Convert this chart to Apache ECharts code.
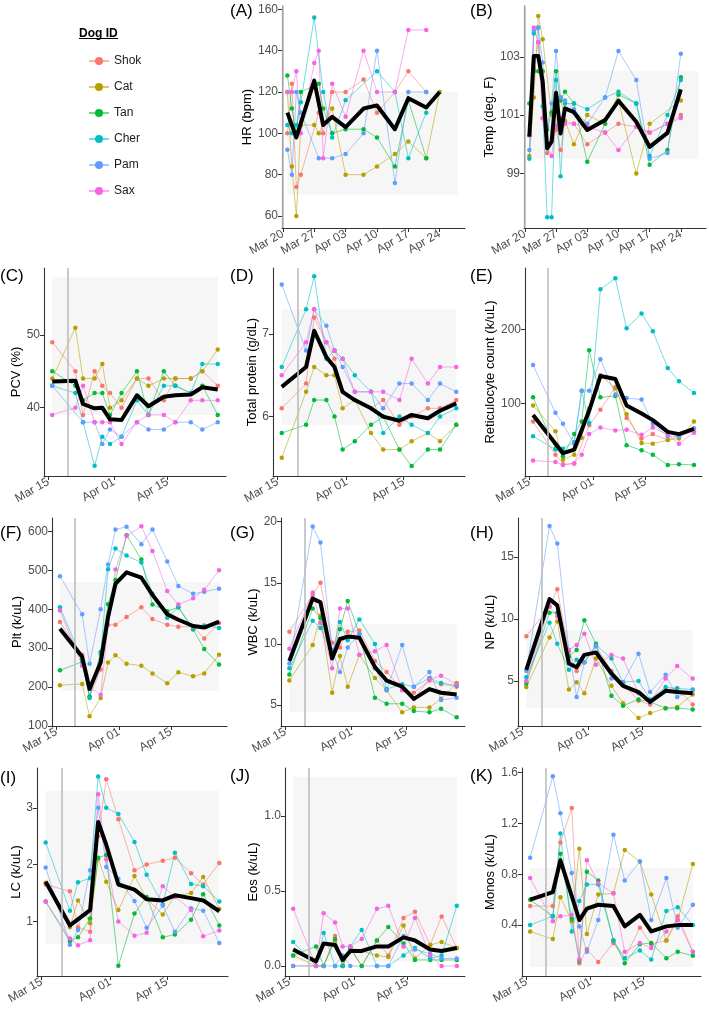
<!DOCTYPE html>
<html><head><meta charset="utf-8">
<script src="https://cdn.jsdelivr.net/npm/echarts@6/dist/echarts.min.js"></script>
<style>html,body{margin:0;padding:0;background:#fff}#c{width:709px;height:1009px}</style>
</head><body><div id="c"></div>
<script>
// ---------- DATA ----------
const dogs = ['Shok','Cat','Tan','Cher','Pam','Sax'];
const dogColors = ['#F8766D','#B79F00','#00BA38','#00BFC4','#619CFF','#F564E3'];

// day offsets from Mar 15
const vitalTickDays = [5,12,19,26,33,40];
const vitalTickLabels = ['Mar 20','Mar 27','Apr 03','Apr 10','Apr 17','Apr 24'];
const labTickDays = [0,17,31];
const labTickLabels = ['Mar 15','Apr 01','Apr 15'];
const exposureDay = 5; // Mar 20

// (A) HR
const hrDates = [6,7,8,9,12,13,14,16,19,23,26,30,33,37,40];
const hr_Shok = [100,124,74,80,null,110,100,120,120,126,110,120,130,120,null];
const hr_Cat  = [120,84,60,104,104,100,null,112,80,80,84,90,96,88,120];
const hr_Tan  = [128,112,100,120,null,124,112,100,102,102,98,84,116,88,null];
const hr_Cher = [104,100,104,115,156,null,120,98,116,null,130,120,88,110,null];
const hr_Pam  = [92,80,120,110,null,88,null,88,90,100,140,76,120,120,null];
const hr_Sax  = [120,120,130,100,134,140,88,124,108,140,120,120,150,150,null];
const hrMeanDates = [6,8,12,14,16,19,23,26,30,33,37,40];
const hrMean = [110,98,125.5,104,108,103,112,113.5,102,117,112.5,120];
const hrBand = [70,120];

// (B) Temp
const tempDates = [6,7,8,9,10,11,12,13,14,16,19,23,26,30,33,37,40];
const temp_Shok = [null,102.6,103.5,100.9,99.7,null,100.5,99.8,100.8,100.7,100.0,100.4,100.7,100.6,100.4,100.7,101.0];
const temp_Cat  = [99.6,101.6,104.4,103.6,null,101.0,100.6,101.6,100.8,100.0,101.0,100.7,101.5,99.0,100.7,null,101.5];
const temp_Tan  = [101.4,102.5,102.5,102.5,100.5,101.1,102.5,101.5,101.8,101.4,99.4,100.7,101.7,101.4,99.3,99.8,102.3];
const temp_Cher = [99.5,103.8,104.0,101.3,97.5,97.5,102.2,98.9,101.4,101.4,101.2,101.6,101.8,101.4,99.6,101.0,102.2];
const temp_Pam  = [99.8,103.9,104.0,102.8,100.6,101.4,103.2,101.6,101.5,101.2,100.7,101.6,103.2,102.2,99.5,99.7,103.1];
const temp_Sax  = [100.3,104.0,103.5,100.9,100.0,99.6,100.6,100.9,100.7,100.7,100.6,100.4,99.8,100.6,100.4,100.7,100.9];
const tempMeanDates = [6,7,8,9,10,11,12,13,14,16,19,23,26,30,33,37,40];
const tempMean = [100.26,103.03,103.03,102.14,99.86,100.09,101.77,100.37,101.23,101.1,100.49,100.83,101.49,100.77,99.91,100.39,101.88];
const tempBand = [99.5,102.5];

// lab dates (C-K)
const labDates = [1,7,9,12,14,16,19,23,26,30,33,37,40,44];

// (C) PCV
const pcv_Shok = [49,45,39,45,43,42,40,44,44,41,44,44,45,43];
const pcv_Cat  = [44,51,44,44,46,40,41,44,43,44,44,44,45,48];
const pcv_Tan  = [45,43,41,42,42,39,42,45,39,45,43,42,43,39];
const pcv_Cher = [43,42,38,32,36,35,36,41,39,43,43,42,46,46];
const pcv_Pam  = [43,null,38,38,35,37,36,38,37,37,38,38,37,38];
const pcv_Sax  = [39,40,43,38,38,38,35,38,39,39,38,41,41,41];
const pcvMean  = [43.6,43.7,40.5,39.9,40,38.4,38.3,41.7,40.2,41.5,41.7,41.8,42.8,42.5];
const pcvBand = [39,58];

// (D) Total protein
const tp_Shok = [6.1,6.4,7.2,6.9,6.7,6.3,6.2,6.1,6.2,5.9,6.0,6.1,6.1,6.2];
const tp_Cat  = [5.5,6.3,6.6,6.5,6.5,6.1,6.2,5.8,5.6,5.6,5.7,5.8,5.7,5.9];
const tp_Tan  = [5.8,5.9,6.2,6.2,6.0,5.6,5.7,5.9,6.0,5.6,5.4,5.6,5.6,5.9];
const tp_Cher = [6.6,7.3,7.7,6.7,6.8,6.7,6.5,6.3,5.8,6.0,5.9,5.8,6.0,6.1];
const tp_Pam  = [7.6,6.8,7.3,7.1,6.8,6.6,6.3,6.3,6.1,6.4,6.4,6.2,6.4,6.3];
const tp_Sax  = [6.5,6.9,7.3,6.9,6.8,6.7,6.3,6.3,6.3,6.2,6.7,6.4,6.6,6.6];
const tpMean  = [6.36,6.6,7.04,6.72,6.6,6.3,6.2,6.1,6.0,5.95,6.02,5.98,6.07,6.16];
const tpBand = [5.9,7.3];

// (E) Reticulocytes
const ret_Shok = [75,30,17,18,null,70,91,122,80,52,58,50,55,62];
const ret_Cat  = [97,62,23,30,53,93,138,120,85,46,45,50,52,75];
const ret_Tan  = [108,38,28,58,75,172,108,110,43,36,30,16,17,16];
const ret_Cher = [55,37,38,47,117,73,255,270,202,222,198,148,130,114];
const ret_Pam  = [152,87,72,45,117,117,160,112,107,105,72,55,55,66];
const ret_Sax  = [22,20,16,18,30,58,67,63,64,57,67,57,45,60];
const retMean  = [84,null,32,37,null,90,137,133,97,86,77,61,58,65];

// (F) Platelets
const plt_Shok = [367,283,175,245,360,360,380,405,375,360,355,355,325,365];
const plt_Cat  = [205,208,125,172,263,282,260,255,235,210,238,228,235,283];
const plt_Tan  = [243,265,175,290,413,475,590,528,412,395,405,348,298,258];
const plt_Cher = [405,270,172,285,503,556,538,520,440,378,405,350,358,352];
const plt_Pam  = [485,387,260,400,515,605,612,567,605,523,460,440,445,453];
const plt_Sax  = [397,255,200,180,360,502,588,613,550,447,412,428,450,500];
const pltMean  = [350,278,195,263,380,465,495,481,437,387,373,357,353,368];
const pltBand = [190,470];

// (G) WBC
const wbc_Shok = [11,14,15,10.1,9.7,11,11.1,8.6,7.7,6.3,6.0,7.0,6.7,6.5];
const wbc_Cat  = [7.0,9.9,12.3,6.0,9.0,6.5,9.1,7.2,6.2,4.4,4.8,4.8,5.5,6.8];
const wbc_Tan  = [7.5,12.9,12.1,9.0,11.2,13.5,10.8,5.6,5.1,5.1,4.5,4.4,4.7,4.0];
const wbc_Cher = [8.0,11.9,11.3,9.2,11.8,10.3,12.0,10.0,6.3,6.7,6.5,7.2,6.8,6.6];
const wbc_Pam  = [8.4,19.6,18.3,9.5,7.7,9.7,10.8,8.0,6.2,9.9,6.5,7.7,5.4,5.6];
const wbc_Sax  = [9.6,14.2,11.7,8.0,12.9,12.9,9.1,9.4,9.9,6.2,5.5,7.1,7.4,6.7];
const wbcMean  = [8.6,13.7,13.4,8.8,10.4,10.6,10.5,8.1,7.0,6.5,5.5,6.3,6.0,5.85];
const wbcBand = [4.4,11.6];

// (H) Neutrophils
const np_Shok = [8.6,11.0,12.4,7.4,5.8,6.5,7.8,5.8,4.8,3.4,3.1,4.3,4.4,3.1];
const np_Cat  = [4.5,8.5,9.8,4.3,4.9,4.0,6.8,4.6,3.2,2.0,2.4,2.8,2.9,3.9];
const np_Tan  = [4.8,10.5,10.5,7.0,7.5,9.9,8.0,3.8,3.0,3.5,3.3,2.8,2.8,2.7];
const np_Cher = [5.3,9.7,8.0,5.9,6.7,6.5,7.9,6.8,4.9,5.0,3.5,4.5,4.4,4.3];
const np_Pam  = [5.8,17.5,16.1,7.5,3.7,6.5,7.8,5.2,4.9,7.2,4.1,5.5,3.7,4.2];
const np_Sax  = [5.0,11.0,10.2,7.5,7.9,8.8,6.3,7.1,6.8,4.0,3.3,5.2,6.2,5.2];
const npMean  = [5.9,11.6,11.1,6.4,6.1,7.1,7.3,5.6,4.6,4.1,3.3,4.2,4.1,4.0];
const npBand = [2.8,9.1];

// (I) Lymphocytes
const lc_Shok = [1.65,1.53,0.9,0.82,2.5,3.5,2.8,1.9,2.0,2.07,2.12,1.85,1.65,2.03];
const lc_Cat  = [1.68,0.9,1.37,0.97,2.1,1.7,1.2,1.8,1.4,1.12,1.45,1.5,1.78,1.22];
const lc_Tan  = [1.35,0.65,0.72,1.05,2.12,2.17,0.22,1.14,1.43,0.72,0.77,1.03,1.48,0.93];
const lc_Cher = [2.39,1.19,1.69,1.76,3.55,3.0,2.89,2.4,1.82,1.3,2.21,1.66,1.62,1.35];
const lc_Pam  = [1.95,0.59,0.85,1.9,3.0,1.96,1.75,1.36,0.89,1.28,0.82,1.23,1.19,0.62];
const lc_Sax  = [1.35,0.7,0.58,0.67,3.24,2.09,1.0,0.75,0.8,1.62,1.43,1.2,0.74,0.84];
const lcMean  = [1.7,0.93,null,1.2,2.75,2.35,1.65,1.56,1.39,1.37,1.46,1.41,1.37,1.18];
const lcBand = [0.6,3.3];

// (J) Eosinophils
const eos_Shok = [0.0,null,0.0,0.2,0.0,0.12,0.0,0.17,0.07,0.32,0.36,0.14,0.33,0.12];
const eos_Cat  = [0.07,0.0,0.0,0.17,0.0,0.12,0.1,0.07,0.06,0.27,0.05,0.14,0.16,0.12];
const eos_Tan  = [0.07,0.13,0.0,0.18,0.0,0.12,0.0,0.17,0.26,0.15,0.04,0.04,0.04,0.04];
const eos_Cher = [0.16,0.0,0.22,0.0,0.0,0.13,0.24,0.0,0.0,0.07,0.12,0.05,0.07,0.4];
const eos_Pam  = [0.0,0.0,0.0,0.0,0.07,0.0,null,0.0,0.0,0.2,0.11,0.08,0.05,0.05];
const eos_Sax  = [0.38,0.0,0.35,0.29,0.13,0.13,0.18,0.38,0.4,0.13,0.32,0.07,0.0,0.0];
const eosMean  = [0.11,0.03,0.15,0.14,0.04,0.10,0.10,0.13,0.13,0.19,0.17,0.11,0.10,0.12];
const eosBand = [0.03,1.26];

// (K) Monocytes
const mono_Shok = [0.55,0.55,1.05,1.32,0.1,0.21,0.11,0.26,0.14,0.38,0.25,0.28,0.47,0.19];
const mono_Cat  = [0.35,0.29,0.62,0.43,1.0,0.33,0.64,0.65,0.99,0.9,0.64,0.28,0.44,0.88];
const mono_Tan  = [0.6,0.47,0.96,0.45,0.12,0.82,0.75,0.28,0.1,0.25,0.26,0.14,0.19,0.16];
const mono_Cher = [0.4,0.47,1.12,0.35,0.59,0.72,0.72,0.28,0.14,0.2,0.13,0.51,0.54,0.4];
const mono_Pam  = [0.93,1.57,1.28,0.81,0.39,0.19,0.44,1.11,0.75,0.9,0.44,0.77,0.38,0.56];
const mono_Sax  = [0.77,0.43,0.47,0.48,0.13,0.91,0.73,0.65,0.19,0.26,0.22,0.35,0.44,0.19];
const monoMean  = [0.6,0.66,0.91,null,0.44,0.53,0.56,0.55,0.39,0.48,0.35,0.39,0.40,0.40];
const monoBand = [0.07,0.85];

// ---------- LAYOUT / BUILD ----------
const FONT = '"Liberation Sans", Arial, sans-serif';
const labX = [-1.15, 46.15];
const vitX = [4.8, 45.65];
const panels = [
  {lab:'(A)', name:'HR (bpm)', g:[282,6,183,222], x:vitX, y:[54.2,161.6], yt:[60,80,100,120,140,160], dates:hrDates, d:[hr_Shok,hr_Cat,hr_Tan,hr_Cher,hr_Pam,hr_Sax], md:hrMeanDates, m:hrMean, band:hrBand, bx:[6,44], gap:20, tp:[230,3], vit:true},
  {lab:'(B)', name:'Temp (deg. F)', g:[524,6,182,222], x:vitX, y:[97.13,104.74], yt:[99,101,103], dates:tempDates, d:[temp_Shok,temp_Cat,temp_Tan,temp_Cher,temp_Pam,temp_Sax], md:tempMeanDates, m:tempMean, band:tempBand, bx:[6,44], gap:22, tp:[470,3], vit:true},
  {lab:'(C)', name:'PCV (%)', g:[44,268,182,208], x:labX, y:[30.6,59.2], yt:[40,50], dates:labDates, d:[pcv_Shok,pcv_Cat,pcv_Tan,pcv_Cher,pcv_Pam,pcv_Sax], md:labDates, m:pcvMean, band:pcvBand, bx:[1,44], gap:16, tp:[0,268]},
  {lab:'(D)', name:'Total protein (g/dL)', g:[273,268,192,208], x:labX, y:[5.28,7.8], yt:[6,7], dates:labDates, d:[tp_Shok,tp_Cat,tp_Tan,tp_Cher,tp_Pam,tp_Sax], md:labDates, m:tpMean, band:tpBand, bx:[1,44], gap:5, tp:[230,268]},
  {lab:'(E)', name:'Reticulocyte count (k/uL)', g:[525,268,177,208], x:labX, y:[1,284], yt:[100,200], dates:labDates, d:[ret_Shok,ret_Cat,ret_Tan,ret_Cher,ret_Pam,ret_Sax], md:labDates, m:retMean, band:null, bx:[1,44], gap:22.5, tp:[470,268]},
  {lab:'(F)', name:'Plt (k/uL)', g:[52,518,175,208], x:labX, y:[100,634.5], yt:[100,200,300,400,500,600], dates:labDates, d:[plt_Shok,plt_Cat,plt_Tan,plt_Cher,plt_Pam,plt_Sax], md:labDates, m:pltMean, band:pltBand, bx:[1,44], gap:23.5, tp:[0,525]},
  {lab:'(G)', name:'WBC (k/uL)', g:[281,518,184,208], x:labX, y:[3.28,20.3], yt:[5,10,15,20], dates:labDates, d:[wbc_Shok,wbc_Cat,wbc_Tan,wbc_Cher,wbc_Pam,wbc_Sax], md:labDates, m:wbcMean, band:wbcBand, bx:[1,44], gap:15, tp:[230,525]},
  {lab:'(H)', name:'NP (k/uL)', g:[518,518,183,208], x:labX, y:[1.36,18.15], yt:[5,10,15], dates:labDates, d:[np_Shok,np_Cat,np_Tan,np_Cher,np_Pam,np_Sax], md:labDates, m:npMean, band:npBand, bx:[1,44], gap:14, tp:[470,525]},
  {lab:'(I)', name:'LC (k/uL)', g:[37,768,191,208], x:labX, y:[0.04,3.7], yt:[1,2,3], dates:labDates, d:[lc_Shok,lc_Cat,lc_Tan,lc_Cher,lc_Pam,lc_Sax], md:labDates, m:lcMean, band:lcBand, bx:[1,44], gap:10, tp:[0,770]},
  {lab:'(J)', name:'Eos (k/uL)', g:[285,768,180,208], x:labX, y:[-0.067,1.318], yt:[0,0.5,1.0], dates:labDates, d:[eos_Shok,eos_Cat,eos_Tan,eos_Cher,eos_Pam,eos_Sax], md:labDates, m:eosMean, band:eosBand, bx:[1,44], gap:19, tp:[230,768], dec:1},
  {lab:'(K)', name:'Monos (k/uL)', g:[522,768,179,208], x:labX, y:[0,1.635], yt:[0.4,0.8,1.2,1.6], dates:labDates, d:[mono_Shok,mono_Cat,mono_Tan,mono_Cher,mono_Pam,mono_Sax], md:labDates, m:monoMean, band:monoBand, bx:[1,44], gap:19.5, tp:[470,768], dec:1}
];

const grids = [], xAxes = [], yAxes = [], series = [], graphics = [];
const axisCol = '#333333', tickTxt = '#4d4d4d';
panels.forEach((p, i) => {
  grids.push({left:p.g[0], top:p.g[1], width:p.g[2], height:p.g[3], containLabel:false, outerBoundsMode:'none'});
  const tDays = p.vit ? vitalTickDays : labTickDays;
  const tLabs = p.vit ? vitalTickLabels : labTickLabels;
  xAxes.push({
    type:'value', gridIndex:i, min:p.x[0], max:p.x[1],
    axisLine:{show:true, onZero:false, lineStyle:{color:axisCol, width:1.1}},
    axisTick:{show:true, length:4, customValues:tDays, lineStyle:{color:axisCol}},
    axisLabel:{show:true, customValues:tDays, rotate:30, margin:5, fontSize:12, color:tickTxt, fontFamily:FONT,
      formatter:(v)=>{const k=tDays.indexOf(Math.round(v)); return k>=0?tLabs[k]:'';}},
    splitLine:{show:false}
  });
  yAxes.push({
    type:'value', gridIndex:i, min:p.y[0], max:p.y[1],
    name:p.name, nameLocation:'middle', nameGap:p.gap,
    nameTextStyle:{fontSize:13, color:'#000', fontFamily:FONT},
    axisLine:{show:true, onZero:false, lineStyle:{color:axisCol, width:1.1}},
    axisTick:{show:true, length:4, customValues:p.yt, lineStyle:{color:axisCol}},
    axisLabel:{show:true, customValues:p.yt, margin:4, fontSize:12, color:tickTxt, fontFamily:FONT,
      formatter:(v)=> p.dec ? Number(v).toFixed(1) : String(Math.round(v))},
    splitLine:{show:false}
  });
  // background band + exposure line
  series.push({
    type:'line', xAxisIndex:i, yAxisIndex:i, data:[], silent:true, z:1,
    markArea: p.band ? {silent:true, itemStyle:{color:'#f6f6f6'}, data:[[{xAxis:p.bx[0], yAxis:p.band[0]},{xAxis:p.bx[1], yAxis:p.band[1]}]]} : undefined,
    markLine:{silent:true, symbol:'none', label:{show:false}, lineStyle:{color:'#bdbdbd', width:1.6, type:'solid'}, data:[{xAxis:exposureDay}]}
  });
  p.d.forEach((vals, k) => {
    const pts = [];
    vals.forEach((v, j) => { if (v !== null) pts.push([p.dates[j], v]); });
    series.push({
      type:'line', name:dogs[k], xAxisIndex:i, yAxisIndex:i, data:pts, z:3,
      symbol:'circle', symbolSize:4.5, showSymbol:true, silent:true,
      lineStyle:{color:dogColors[k], width:1, opacity:0.55},
      itemStyle:{color:dogColors[k]}, color:dogColors[k]
    });
  });
  const mpts = [];
  p.m.forEach((v, j) => { if (v !== null) mpts.push([p.md[j], v]); });
  series.push({type:'line', name:'mean', xAxisIndex:i, yAxisIndex:i, data:mpts, z:4, symbol:'none', silent:true,
    lineStyle:{color:'#000', width:4, join:'round'}});
  graphics.push({type:'text', left:p.tp[0], top:p.tp[1], style:{text:p.lab, fontSize:17, fill:'#000', fontFamily:FONT}});
});

graphics.push({type:'text', left:79, top:28, style:{text:'Dog ID', fontSize:12, fontWeight:'bold', fill:'#000', fontFamily:FONT}});
graphics.push({type:'line', shape:{x1:79, y1:38.5, x2:118, y2:38.5}, style:{stroke:'#000', lineWidth:1}});

const chart = echarts.init(document.getElementById('c'), null, {renderer:'canvas'});
chart.setOption({
  animation:false,
  backgroundColor:'#fff',
  grid:grids, xAxis:xAxes, yAxis:yAxes, series:series, graphic:graphics,
  legend:{data:dogs, orient:'vertical', left:83, top:50, itemWidth:20, itemHeight:10, itemGap:14, selectedMode:false,
    textStyle:{fontSize:12, color:'#1a1a1a', fontFamily:FONT, padding:[0,0,0,0]}}
});
</script></body></html>
